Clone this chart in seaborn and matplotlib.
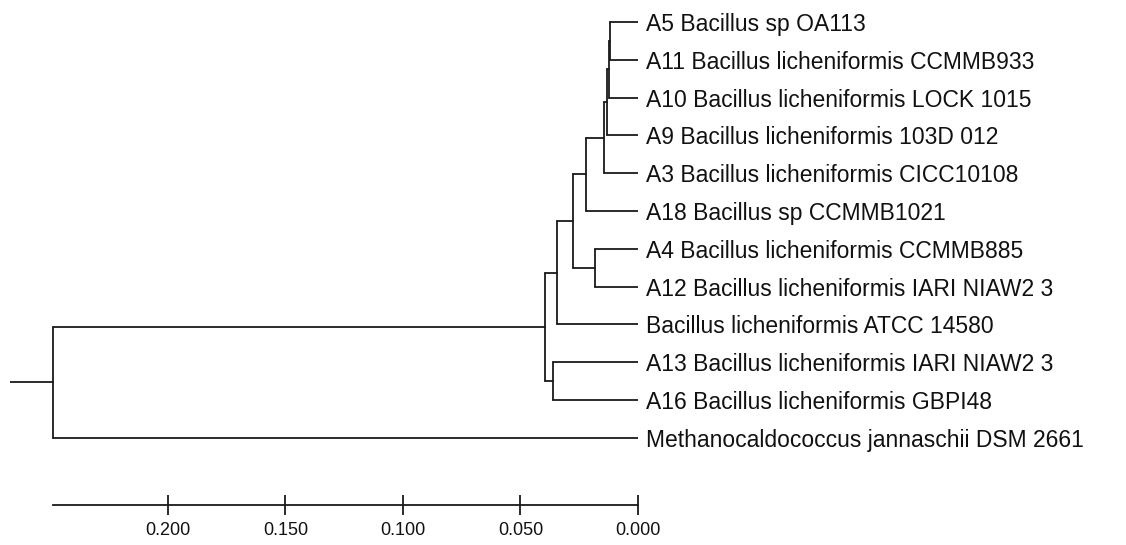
import matplotlib
matplotlib.use("Agg")
import matplotlib.pyplot as plt
import seaborn as sns
import pandas as pd

sns.set_theme(style="white")
plt.rcParams["font.family"] = ["Liberation Sans", "DejaVu Sans"]

# Leaves, top to bottom
leaf_labels = [
    "A5 Bacillus sp OA113",
    "A11 Bacillus licheniformis CCMMB933",
    "A10 Bacillus licheniformis LOCK 1015",
    "A9 Bacillus licheniformis 103D 012",
    "A3 Bacillus licheniformis CICC10108",
    "A18 Bacillus sp CCMMB1021",
    "A4 Bacillus licheniformis CCMMB885",
    "A12 Bacillus licheniformis IARI NIAW2 3",
    "Bacillus licheniformis ATCC 14580",
    "A13 Bacillus licheniformis IARI NIAW2 3",
    "A16 Bacillus licheniformis GBPI48",
    "Methanocaldococcus jannaschii DSM 2661",
]

# Internal nodes in join order: children ids (leaves 0..11, nodes 12..) and node heights
node_left = [0, 12, 13, 14, 15, 6, 16, 18, 9, 19, 21]
node_right = [1, 2, 3, 4, 5, 7, 17, 8, 10, 20, 11]
node_height = [0.0119, 0.0123, 0.0132, 0.0145, 0.0221, 0.0183,
               0.0278, 0.0345, 0.0360, 0.0396, 0.2489]
root_stub = 0.0183

scale_ticks = [0.0, 0.05, 0.10, 0.15, 0.20]
scale_labels = ["0.000", "0.050", "0.100", "0.150", "0.200"]

# Layout: positions of every cluster
n_leaves = len(leaf_labels)
xpos = {i: 0.0 for i in range(n_leaves)}
ypos = {i: float(i) for i in range(n_leaves)}
rows = []
seg = 0
for k, (a, b, h) in enumerate(zip(node_left, node_right, node_height)):
    nid = n_leaves + k
    xpos[nid] = h
    ypos[nid] = (ypos[a] + ypos[b]) / 2
    for child in (a, b):
        rows += [(seg, xpos[child], ypos[child]), (seg, h, ypos[child])]
        seg += 1
    rows += [(seg, h, ypos[a]), (seg, h, ypos[b])]
    seg += 1
root = n_leaves + len(node_height) - 1
rows += [(seg, xpos[root], ypos[root]), (seg, xpos[root] + root_stub, ypos[root])]
segments = pd.DataFrame(rows, columns=["seg", "x", "y"])

W, H = 1126, 545
fig = plt.figure(figsize=(W / 100, H / 100), dpi=100)
left_px, right_px, top_px, bottom_px = 10, 638, 10, 505
ax = fig.add_axes([left_px / W, 1 - bottom_px / H,
                   (right_px - left_px) / W, (bottom_px - top_px) / H])

sns.lineplot(data=segments, x="x", y="y", units="seg", estimator=None,
             sort=False, color="#1a1a1a", linewidth=1.3, ax=ax, legend=False)

x_left = xpos[root] + root_stub
ax.set_xlim(x_left, 0.0)
row0, row_step = 22, 37.8
ax.set_ylim((bottom_px - row0) / row_step, (top_px - row0) / row_step)

px_per_unit = (right_px - left_px) / x_left
for i, lab in enumerate(leaf_labels):
    ax.text(-8 / px_per_unit, i, lab, ha="left", va="center_baseline",
            fontsize=16.5, color="#111111", clip_on=False)

for s in ("top", "right", "left"):
    ax.spines[s].set_visible(False)
ax.spines["bottom"].set_bounds(0.0, xpos[root])
ax.spines["bottom"].set_color("#1a1a1a")
ax.spines["bottom"].set_linewidth(1.3)
ax.set_yticks([])
ax.set_xticks(scale_ticks)
ax.set_xticklabels(scale_labels)
ax.tick_params(axis="x", direction="inout", length=14, width=1.3,
               color="#1a1a1a", labelsize=13, pad=5.5, labelcolor="#111111",
               bottom=True)
ax.set_xlabel("")
ax.set_ylabel("")

fig.savefig("out.png", dpi=100)
